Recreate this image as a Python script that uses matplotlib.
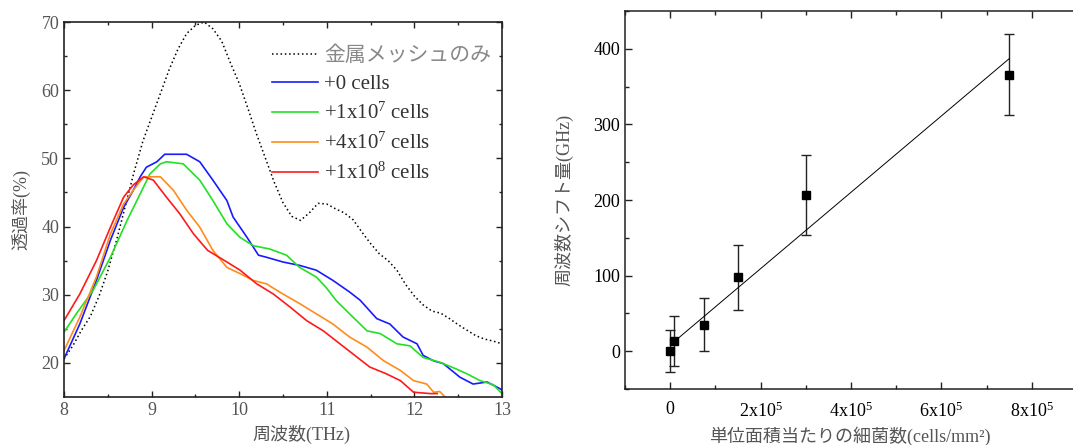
import matplotlib
matplotlib.use("Agg")
import matplotlib.pyplot as plt
from matplotlib.ticker import MultipleLocator, FixedLocator
import numpy as np

plt.rcParams['font.family'] = ['Liberation Serif', 'Noto Sans CJK JP']
plt.rcParams['mathtext.fontset'] = 'custom'
plt.rcParams['mathtext.rm'] = 'Liberation Serif'
plt.rcParams['mathtext.it'] = 'Liberation Serif:italic'

# ---- left panel: transmission spectra ----
mesh_f = [8.0, 8.1, 8.2, 8.3, 8.4, 8.5, 8.6, 8.7, 8.8, 8.9, 9.0, 9.1, 9.2, 9.3, 9.4,
          9.5, 9.6, 9.7, 9.8, 9.9, 10.0, 10.1, 10.2, 10.3, 10.4, 10.5, 10.6, 10.7,
          10.8, 10.9, 11.0, 11.1, 11.2, 11.3, 11.4, 11.5, 11.6, 11.7, 11.8, 11.9,
          12.0, 12.1, 12.2, 12.3, 12.4, 12.5, 12.6, 12.7, 12.8, 12.9, 13.0]
mesh_t = [20.6, 22.5, 24.8, 26.8, 29.8, 33.5, 38.0, 43.0, 48.0, 52.5, 56.0, 59.5,
          63.0, 66.0, 68.3, 69.5, 70.0, 69.0, 67.2, 64.0, 61.0, 57.3, 53.5, 50.0,
          46.5, 43.5, 41.5, 40.9, 42.0, 43.4, 43.3, 42.6, 42.0, 41.0, 39.2, 37.5,
          36.0, 35.0, 33.6, 31.5, 29.8, 28.5, 27.6, 27.3, 26.5, 25.6, 24.8, 24.0,
          23.5, 23.2, 22.8]

blue_f = [8.0, 8.18, 8.37, 8.53, 8.68, 8.79, 8.87, 8.94, 9.06, 9.15, 9.4, 9.55, 9.7,
          9.86, 9.93, 10.09, 10.22, 10.31, 10.5, 10.69, 10.88, 11.07, 11.26, 11.38,
          11.57, 11.72, 11.87, 12.03, 12.1, 12.22, 12.33, 12.52, 12.67, 12.83, 12.98, 13.0]
blue_t = [20.6, 25.7, 32.1, 38.0, 42.8, 45.3, 47.3, 48.7, 49.5, 50.6, 50.6, 49.5, 46.8,
          43.8, 41.4, 38.4, 35.8, 35.5, 34.8, 34.3, 33.6, 32.1, 30.4, 29.2,
          26.5, 25.7, 23.8, 22.8, 21.1, 20.3, 19.9, 17.9, 16.9, 17.2, 16.2, 16.0]

green_f = [8.0, 8.14, 8.33, 8.53, 8.72, 8.87, 8.98, 9.1, 9.17, 9.36, 9.55, 9.7, 9.86,
           10.01, 10.16, 10.35, 10.54, 10.69, 10.88, 10.99, 11.11, 11.3, 11.46, 11.61,
           11.8, 11.95, 12.1, 12.29, 12.48, 12.6, 12.75, 12.9, 13.0]
green_t = [24.5, 27.2, 30.6, 35.5, 40.9, 44.8, 47.7, 49.2, 49.5, 49.2, 46.8, 43.8, 40.4,
           38.4, 37.2, 36.7, 35.8, 34.0, 32.6, 31.1, 29.1, 26.7, 24.7, 24.3,
           22.8, 22.5, 20.8, 20.1, 19.1, 18.4, 17.4, 16.8, 15.5]

orange_f = [8.0, 8.18, 8.37, 8.53, 8.68, 8.79, 8.91, 9.1, 9.25, 9.4, 9.55, 9.7, 9.86,
            10.01, 10.16, 10.31, 10.5, 10.69, 10.88, 11.07, 11.26, 11.46, 11.65, 11.84,
            11.99, 12.14, 12.22, 12.29, 12.35]
orange_t = [21.8, 26.7, 32.6, 38.9, 43.3, 45.3, 47.3, 47.3, 45.3, 42.4, 39.9, 36.5, 34.0,
            33.1, 32.1, 31.6, 30.1, 28.7, 27.2, 25.7, 23.8, 22.3, 20.3, 18.9,
            17.4, 16.9, 15.7, 15.8, 15.0]

red_f = [8.0, 8.18, 8.37, 8.53, 8.68, 8.79, 8.91, 9.02, 9.17, 9.32, 9.48, 9.64, 9.86,
         10.01, 10.2, 10.39, 10.58, 10.77, 10.96, 11.15, 11.3, 11.49, 11.68, 11.84,
         11.99, 12.18, 12.26]
red_t = [26.2, 30.1, 35.0, 39.9, 44.3, 46.1, 47.3, 46.8, 44.3, 41.9, 38.9, 36.5, 34.8,
         33.6, 31.6, 30.1, 28.2, 26.2, 24.7, 22.8, 21.3, 19.4, 18.4, 17.4,
         15.7, 15.5, 15.5]

series_labels = ['金属メッシュのみ', '+0 cells', '+1x10$^7$ cells',
                 '+4x10$^7$ cells', '+1x10$^8$ cells']

# ---- right panel: frequency shift vs bacteria density ----
density = [0, 7.5e3, 7.5e4, 1.5e5, 3.0e5, 7.5e5]
shift = [0, 13.5, 35, 98, 207, 366]
shift_err = [28, 33, 35, 43, 53, 54]
fit_coef = [5.05e-4, 8.2]
x_ticklabels = ['0', '2x10$^5$', '4x10$^5$', '6x10$^5$', '8x10$^5$']

grey = '#555555'

fig = plt.figure(figsize=(10.73, 4.45), dpi=100)

# left axes
ax1 = fig.add_axes([64 / 1073, 1 - 397 / 445, 438 / 1073, 375 / 445])
ax1.plot(mesh_f, mesh_t, color='black', linestyle=(0, (1, 1.8)), linewidth=1.1,
         label=series_labels[0])
ax1.plot(blue_f, blue_t, color='#1a1aff', linewidth=1.2, label=series_labels[1])
ax1.plot(green_f, green_t, color='#22e022', linewidth=1.2, label=series_labels[2])
ax1.plot(orange_f, orange_t, color='#ff8c1a', linewidth=1.2, label=series_labels[3])
ax1.plot(red_f, red_t, color='#ff1a1a', linewidth=1.2, label=series_labels[4])
ax1.set_xlim(8, 13)
ax1.set_ylim(15, 70)
ax1.xaxis.set_major_locator(MultipleLocator(1))
ax1.xaxis.set_minor_locator(MultipleLocator(0.5))
ax1.yaxis.set_major_locator(FixedLocator([20, 30, 40, 50, 60, 70]))
ax1.yaxis.set_minor_locator(FixedLocator([25, 35, 45, 55, 65]))
ax1.tick_params(which='both', direction='in', top=True, right=True,
                labelsize=13, labelcolor=grey, color='#222222')
ax1.tick_params(which='major', length=4, width=1)
ax1.tick_params(which='minor', length=2.5, width=1)
for s in ax1.spines.values():
    s.set_linewidth(1.2)
    s.set_color('#222222')
ax1.set_xlabel('周波数(THz)', fontsize=13, color=grey)
ax1.xaxis.set_label_coords((301 - 64) / 438, -0.075)
ax1.set_ylabel('透過率(%)', fontsize=13, color=grey, labelpad=8)
leg = ax1.legend(loc='upper left', bbox_to_anchor=(0.475, 0.935), frameon=False,
                 fontsize=15, handlelength=2.2, handletextpad=0.3,
                 labelspacing=0.42, borderaxespad=0, borderpad=0)
for t in leg.get_texts():
    t.set_color('#333333')
leg.get_texts()[0].set_color('#888888')

# right axes
ax2 = fig.add_axes([625 / 1073, 1 - 389 / 445, 452 / 1073, 378 / 445])
ax2.errorbar(density, shift, yerr=shift_err, fmt='s', color='black',
             markersize=6, ecolor='#222222', elinewidth=1, capsize=3.5, capthick=1)
fit_x = np.array([density[1], density[-1]])
ax2.plot(fit_x, np.polyval(fit_coef, fit_x), color='black', linewidth=0.7)
ax2.set_xlim(-1e5, 9e5)
ax2.set_ylim(-50, 450)
ax2.xaxis.set_major_locator(FixedLocator([0, 2e5, 4e5, 6e5, 8e5]))
ax2.xaxis.set_minor_locator(FixedLocator([-1e5, 1e5, 3e5, 5e5, 7e5, 9e5]))
ax2.set_xticklabels(x_ticklabels)
ax2.yaxis.set_major_locator(FixedLocator([0, 100, 200, 300, 400]))
ax2.yaxis.set_minor_locator(FixedLocator([-50, 50, 150, 250, 350, 450]))
ax2.tick_params(which='both', direction='in', top=True, right=False,
                labelsize=13, color='#222222')
ax2.tick_params(which='major', length=5, width=1)
ax2.tick_params(which='minor', length=3, width=1)
ax2.tick_params(axis='x', pad=9)
ax2.spines['right'].set_visible(False)
for s in ['left', 'top', 'bottom']:
    ax2.spines[s].set_linewidth(1.1)
    ax2.spines[s].set_color('#222222')
ax2.set_ylabel('周波数シフト量(GHz)', fontsize=13, color=grey, labelpad=14)
ax2.set_xlabel('単位面積当たりの細菌数(cells/mm²)', fontsize=13, color=grey)
ax2.xaxis.set_label_coords((850 - 625) / 452, -0.098)

fig.savefig('out.png', dpi=100)
